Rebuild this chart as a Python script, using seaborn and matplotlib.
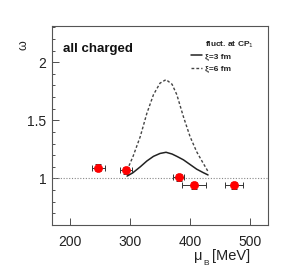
import numpy as np
import pandas as pd
import matplotlib
matplotlib.use("Agg")
import matplotlib.pyplot as plt
import seaborn as sns
from matplotlib.ticker import MultipleLocator

# data points
mu_b = [247, 294, 381, 407, 473]
omega = [1.09, 1.07, 1.01, 0.94, 0.94]
mu_err = [11, 10, 9, 20, 15]
om_err = [0.03, 0.03, 0.03, 0.03, 0.03]

# model curves
curve_mu = [295, 305, 317, 328, 339, 350, 360, 370, 378, 389, 400, 411, 422, 430]
xi3 = [1.02, 1.05, 1.10, 1.15, 1.19, 1.215, 1.225, 1.21, 1.19, 1.16, 1.12, 1.08, 1.05, 1.03]
xi6 = [1.07, 1.19, 1.36, 1.56, 1.72, 1.82, 1.85, 1.81, 1.72, 1.53, 1.36, 1.23, 1.13, 1.06]

sns.set_theme(style="ticks")
plt.rcParams['font.family'] = ['Liberation Sans', 'DejaVu Sans']

fig = plt.figure(figsize=(2.91, 2.75), dpi=100)
ax = fig.add_axes([0.179, 0.182, 0.742, 0.723])

ax.axhline(1.0, color="#888888", lw=0.8, ls=(0, (1, 1.5)), zorder=1)

curves = pd.DataFrame({"mu": curve_mu, "xi3": xi3, "xi6": xi6})
sns.lineplot(data=curves, x="mu", y="xi3", ax=ax, color="#222222", lw=1.1,
             label="ξ=3 fm", estimator=None, sort=False)
sns.lineplot(data=curves, x="mu", y="xi6", ax=ax, color="#444444", lw=1.0,
             ls=(0, (2, 1.5)), label="ξ=6 fm", estimator=None, sort=False)

ax.errorbar(mu_b, omega, xerr=mu_err, yerr=om_err, fmt="none",
            ecolor="#333333", elinewidth=0.7, capsize=2, capthick=0.7, zorder=3)
pts = pd.DataFrame({"mu": mu_b, "omega": omega})
sns.scatterplot(data=pts, x="mu", y="omega", ax=ax, color="red", marker="o",
                s=34, edgecolor="red", zorder=4)

ax.set_xlim(170, 530)
ax.set_ylim(0.6, 2.31)
ax.set_xticks([200, 300, 400, 500])
ax.set_yticks([1, 1.5, 2])
ax.set_yticklabels(["1", "1.5", "2"])
ax.yaxis.set_minor_locator(MultipleLocator(0.1))
ax.tick_params(axis="both", which="both", direction="in", labelsize=10,
               colors="#333333", labelcolor="#222222")
ax.tick_params(axis="both", which="major", length=5, width=0.6)
ax.tick_params(axis="y", which="minor", length=2.5, width=0.6)
ax.tick_params(axis="x", pad=7)
ax.tick_params(axis="y", pad=4)
for sp in ax.spines.values():
    sp.set_color("#555555")
    sp.set_linewidth(0.8)

ax.set_xlabel("")
ax.set_ylabel("")
fig.text(0.665, 0.055, "μ", fontsize=10.5, color="#222222")
fig.text(0.7, 0.035, "B", fontsize=6, color="#222222")
fig.text(0.73, 0.055, "[MeV]", fontsize=10.5, color="#222222")
fig.text(0.06, 0.83, "ω", fontsize=9, rotation=90, color="#222222")
ax.text(0.05, 0.87, "all charged", transform=ax.transAxes, fontsize=9.5,
        fontweight="bold", color="#111111")
ax.text(0.71, 0.9, r"fluct. at CP$_1$", transform=ax.transAxes, fontsize=6,
        fontweight="bold", color="#222222")

leg = ax.legend(loc="upper left", bbox_to_anchor=(0.63, 0.885), frameon=False,
                fontsize=6, handlelength=1.3, handletextpad=0.3,
                labelspacing=0.55, borderaxespad=0)
for t in leg.get_texts():
    t.set_fontweight("bold")
    t.set_color("#222222")

fig.savefig("out.png", dpi=100)
